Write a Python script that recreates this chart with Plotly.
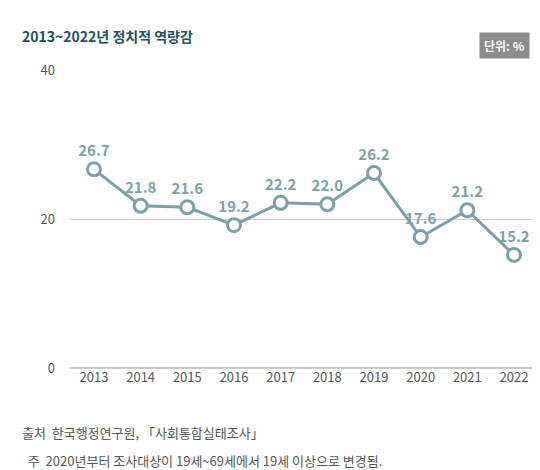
import plotly.graph_objects as go

years = [2013, 2014, 2015, 2016, 2017, 2018, 2019, 2020, 2021, 2022]
values = [26.7, 21.8, 21.6, 19.2, 22.2, 22.0, 26.2, 17.6, 21.2, 15.2]
labels = ["26.7", "21.8", "21.6", "19.2", "22.2", "22.0", "26.2", "17.6", "21.2", "15.2"]

col = "#7e9fa8"
font = "Noto Sans CJK KR"

fig = go.Figure(go.Scatter(
    x=years, y=values, mode="lines+markers+text", text=["<b>%s</b>" % t for t in labels],
    textposition="top center", textfont=dict(color=col, size=15, family=font),
    line=dict(color=col, width=3),
    marker=dict(size=13, color="white", line=dict(color=col, width=3)),
    cliponaxis=False))

H = 298
fig.update_layout(
    width=540, height=470, margin=dict(l=62, r=10, t=62, b=110, autoexpand=False),
    paper_bgcolor="white", plot_bgcolor="white", showlegend=False,
    font=dict(family=font, color="#555"),
    xaxis=dict(range=[2012.486, 2022.514], tickvals=years, showgrid=False, automargin=False,
               zeroline=False, tickfont=dict(size=13, color="#555")),
    yaxis=dict(range=[0, 40.05], tickvals=[0, 20, 40], showgrid=True, automargin=False,
               gridcolor="#cccccc", gridwidth=1, zeroline=False,
               tickfont=dict(size=13, color="#555"), ticklabelstandoff=14),
    shapes=[dict(type="line", xref="paper", yref="paper", x0=0, x1=1, y0=0, y1=0,
                 line=dict(color="#999", width=1))],
    annotations=[
        dict(text="<b>2013~2022년 정치적 역량감</b>", x=-50/468, y=(H+34)/H, xref="paper", yref="paper",
             showarrow=False, xanchor="left", yanchor="middle",
             font=dict(size=14, color="#22505e")),
        dict(text="<b>단위: %</b>", x=1 - 8/468, y=(H+24)/H, xref="paper", yref="paper",
             xanchor="right", yanchor="middle", showarrow=False, bgcolor="#8c8c8c",
             borderpad=4, font=dict(size=12, color="white")),
        dict(text="출처  한국행정연구원, 「사회통합실태조사」", x=-50/468, y=-64/H,
             xref="paper", yref="paper", showarrow=False, xanchor="left", yanchor="middle",
             font=dict(size=13, color="#555")),
        dict(text="  주  2020년부터 조사대상이 19세~69세에서 19세 이상으로 변경됨.", x=-50/468, y=-92/H,
             xref="paper", yref="paper", showarrow=False, xanchor="left", yanchor="middle",
             font=dict(size=13, color="#555")),
    ])
fig.write_html("out.html")
